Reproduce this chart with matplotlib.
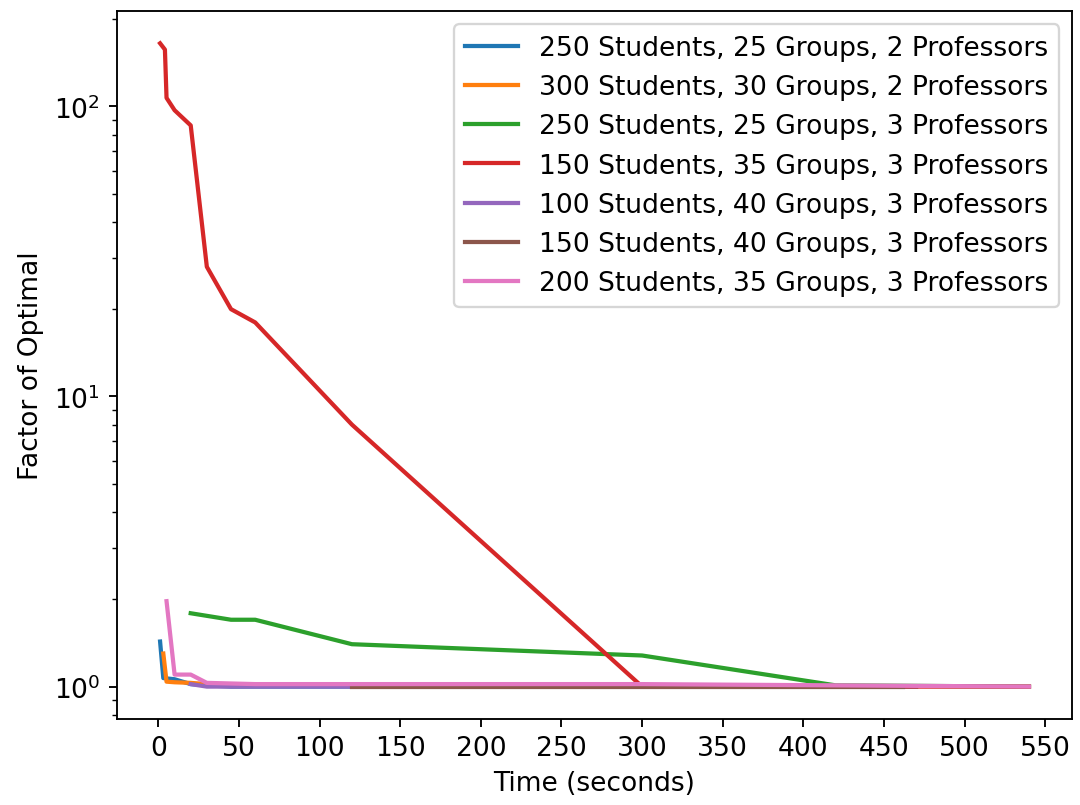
import matplotlib
matplotlib.use("Agg")
import matplotlib.pyplot as plt

plt.rcParams["font.size"] = 11.3

labels = [
    "250 Students, 25 Groups, 2 Professors",
    "300 Students, 30 Groups, 2 Professors",
    "250 Students, 25 Groups, 3 Professors",
    "150 Students, 35 Groups, 3 Professors",
    "100 Students, 40 Groups, 3 Professors",
    "150 Students, 40 Groups, 3 Professors",
    "200 Students, 35 Groups, 3 Professors",
]

t_blue = [1, 3, 10, 20, 30, 45, 60, 120, 300, 470]
v_blue = [1.43, 1.07, 1.06, 1.02, 1.01, 1.0, 1.0, 1.0, 1.0, 1.0]

t_orange = [3, 5, 10, 20, 30, 60, 120, 300]
v_orange = [1.30, 1.04, 1.035, 1.03, 1.02, 1.02, 1.02, 1.02]

t_green = [20, 45, 60, 120, 300, 420, 540]
v_green = [1.79, 1.70, 1.70, 1.40, 1.28, 1.01, 1.0]

t_red = [1, 4, 5, 10, 20, 30, 45, 60, 120, 300, 540]
v_red = [165, 157, 107, 97, 86, 28, 20, 18, 8.0, 1.0, 1.0]

t_purple = [20, 30, 60, 120, 300, 400]
v_purple = [1.02, 1.0, 1.0, 1.0, 1.0, 1.0]

t_brown = [120, 300, 462]
v_brown = [1.0, 1.0, 1.0]

t_pink = [5, 10, 20, 30, 60, 120, 300, 540]
v_pink = [1.97, 1.10, 1.10, 1.03, 1.02, 1.02, 1.02, 1.0]

series = [
    (t_blue, v_blue), (t_orange, v_orange), (t_green, v_green),
    (t_red, v_red), (t_purple, v_purple), (t_brown, v_brown),
    (t_pink, v_pink),
]

fig = plt.figure(figsize=(6.4, 4.776), dpi=168.75)
ax = fig.add_axes([0.108, 0.107, 0.885, 0.878])
for (t, v), lab in zip(series, labels):
    ax.plot(t, v, label=lab, linewidth=1.8)

ax.set_yscale("log")
ax.set_xticks(range(0, 551, 50))
ax.set_xlabel("Time (seconds)")
ax.set_ylabel("Factor of Optimal")
ax.legend(loc="upper right")

fig.savefig("out.png", dpi=168.75)
